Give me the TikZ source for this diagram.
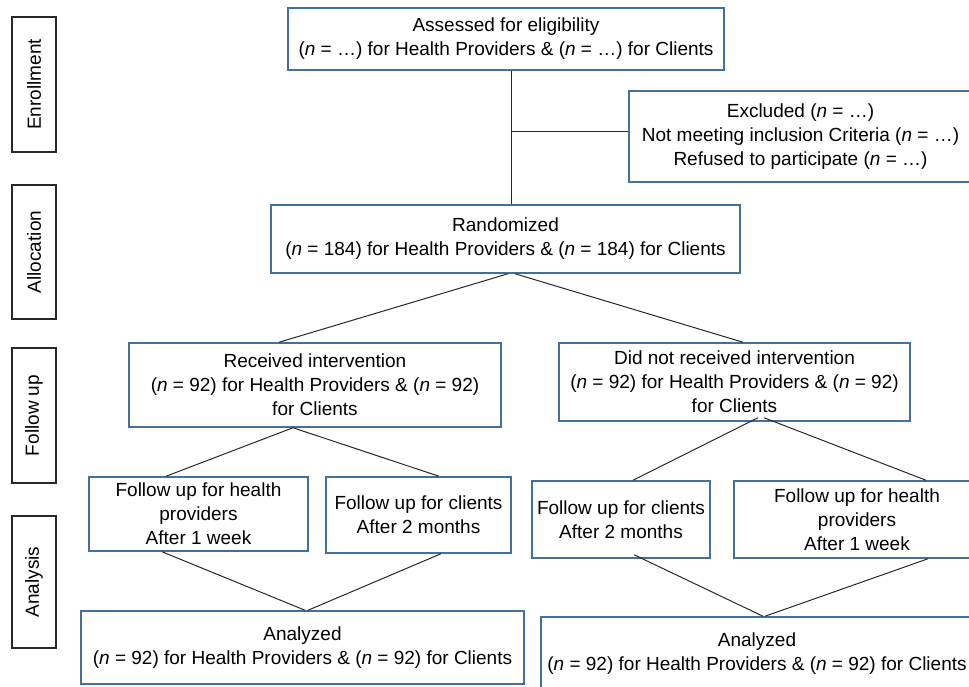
\documentclass[tikz,border=0pt]{standalone}
\usepackage{fontspec}
\setmainfont{Liberation Sans}
\usepackage{tikz}
\usetikzlibrary{positioning}
\definecolor{boxblue}{RGB}{65,113,156}
\definecolor{linegray}{RGB}{40,40,40}

\begin{document}
\begin{tikzpicture}[x=1pt,y=-1pt,
  box/.style={rectangle,draw=boxblue,line width=1.5pt,align=center,inner sep=0pt,font=\fontsize{19}{24}\selectfont},
  phase/.style={rectangle,draw=linegray,line width=1.5pt,inner sep=0pt,minimum width=44,font=\fontsize{19}{24}\selectfont},
  link/.style={draw=linegray,line width=1pt}]
\useasboundingbox (0,0) rectangle (969,687);

\node[phase,minimum height=135] (enr) at (34,84.5) {\rotatebox{90}{Enrollment}};
\node[phase,minimum height=134] (alc) at (34,252) {\rotatebox{90}{Allocation}};
\node[phase,minimum height=135] (fup) at (34,415.5) {\rotatebox{90}{Follow up}};
\node[phase,minimum height=132] (ana) at (34,582) {\rotatebox{90}{Analysis}};

\node[box,minimum width=436,minimum height=62] (assess) at (506,39) {Assessed for eligibility\\(\textit{n} = …) for Health Providers \& (\textit{n} = …) for Clients};
\node[box,minimum width=343,minimum height=91] (excl) at (800.5,136.5) {Excluded (\textit{n} = …)\\Not meeting inclusion Criteria (\textit{n} = …)\\Refused to participate (\textit{n} = …)};
\node[box,minimum width=469,minimum height=68] (rand) at (505.5,239) {Randomized\\(\textit{n} = 184) for Health Providers \& (\textit{n} = 184) for Clients};
\node[box,minimum width=372,minimum height=84] (recv) at (315,385) {Received intervention\\(\textit{n} = 92) for Health Providers \& (\textit{n} = 92)\\for Clients};
\node[box,minimum width=351,minimum height=78] (norecv) at (734.5,382) {Did not received intervention\\(\textit{n} = 92) for Health Providers \& (\textit{n} = 92)\\for Clients};
\node[box,minimum width=219,minimum height=74] (hpA) at (198.5,514) {Follow up for health\\providers\\After 1 week};
\node[box,minimum width=185,minimum height=76] (clA) at (418.5,515) {Follow up for clients\\After 2 months};
\node[box,minimum width=178,minimum height=77] (clB) at (621,519.5) {Follow up for clients\\After 2 months};
\node[box,minimum width=246,minimum height=77] (hpB) at (857,519.5) {Follow up for health\\providers\\After 1 week};
\node[box,minimum width=443,minimum height=73] (anaA) at (302.5,647.5) {Analyzed\\(\textit{n} = 92) for Health Providers \& (\textit{n} = 92) for Clients};
\node[box,minimum width=432,minimum height=73] (anaB) at (757,653.5) {Analyzed\\(\textit{n} = 92) for Health Providers \& (\textit{n} = 92) for Clients};

\coordinate (jn) at (511,132);
\draw[link] ([xshift=5]assess.south) -- ([xshift=5]assess.south |- rand.north) (jn) -- (jn -| excl.west);
\draw[link] ([xshift=2.5]rand.south) -- ([xshift=-36]recv.north) ([xshift=9.5]rand.south) -- ([xshift=8.5]norecv.north);
\draw[link] ([xshift=-22]recv.south) -- ([xshift=-32.5]hpA.north) ([xshift=-22]recv.south) -- ([xshift=20.5]clA.north);
\draw[link] ([xshift=-36.5]hpA.south) -- ([xshift=2.5]anaA.north) ([xshift=22.5]clA.south) -- ([xshift=5.5]anaA.north);
\draw[link] ([xshift=23.5,yshift=4]norecv.south) -- ([xshift=12]clB.north) ([xshift=29.5,yshift=4]norecv.south) -- ([xshift=69]hpB.north);
\draw[link] ([xshift=13,yshift=4]clB.south) -- ([xshift=6]anaB.north) (hpB.south -| 928,0) -- ([xshift=8]anaB.north);
\end{tikzpicture}
\end{document}
